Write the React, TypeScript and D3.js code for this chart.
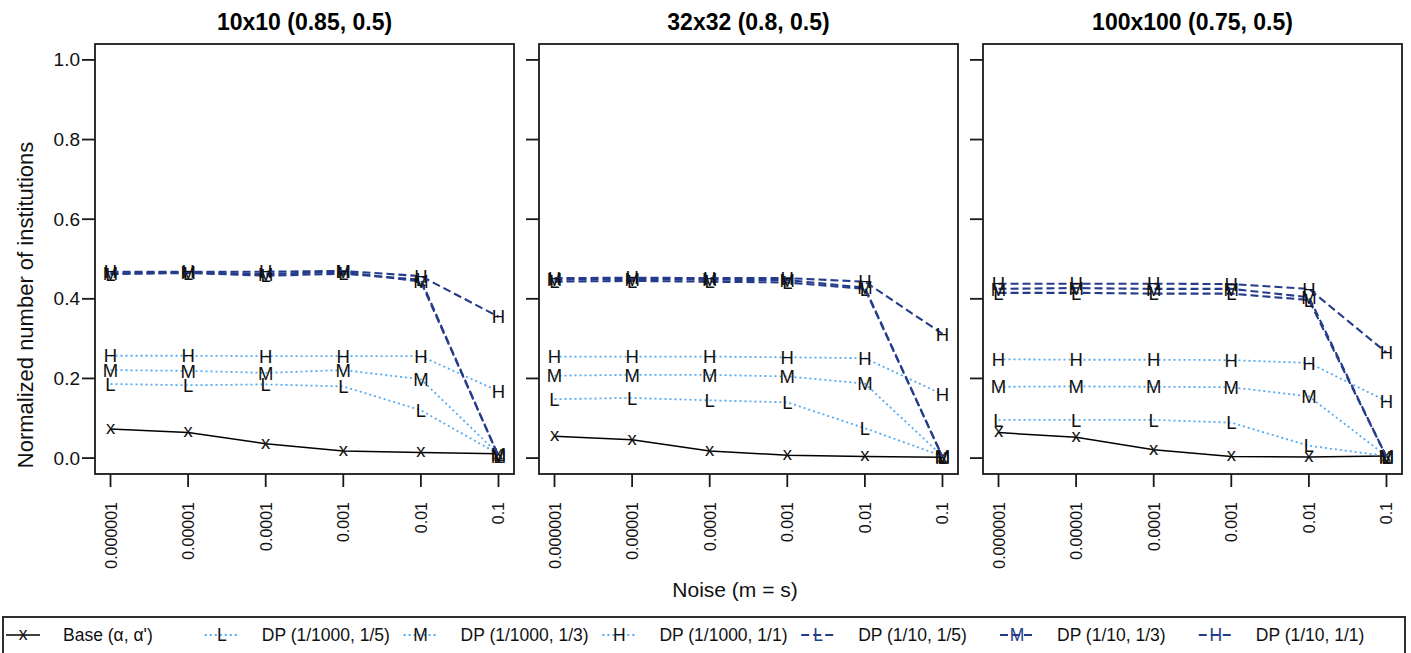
import React from 'react';
import * as d3 from 'd3';

// noise levels on the x axis (m = s)
const noiseLabels = ['0.000001', '0.00001', '0.0001', '0.001', '0.01', '0.1'];
const yTicks = [0, 0.2, 0.4, 0.6, 0.8, 1.0];
const panelTitles = ['10x10 (0.85, 0.5)', '32x32 (0.8, 0.5)', '100x100 (0.75, 0.5)'];

// 10x10
const p10Base = [0.073, 0.064, 0.036, 0.018, 0.014, 0.011];
const p10L1000 = [0.186, 0.183, 0.185, 0.18, 0.12, 0.01];
const p10M1000 = [0.221, 0.219, 0.214, 0.221, 0.198, 0.01];
const p10H1000 = [0.257, 0.257, 0.256, 0.256, 0.256, 0.168];
const p10L10 = [0.462, 0.465, 0.458, 0.463, 0.448, 0.005];
const p10M10 = [0.464, 0.466, 0.462, 0.468, 0.443, 0.005];
const p10H10 = [0.468, 0.468, 0.468, 0.47, 0.457, 0.355];

// 32x32
const p32Base = [0.055, 0.046, 0.018, 0.007, 0.004, 0.002];
const p32L1000 = [0.148, 0.151, 0.145, 0.14, 0.075, 0.005];
const p32M1000 = [0.207, 0.209, 0.209, 0.205, 0.187, 0.005];
const p32H1000 = [0.255, 0.255, 0.255, 0.253, 0.251, 0.16];
const p32L10 = [0.443, 0.445, 0.443, 0.441, 0.425, 0.003];
const p32M10 = [0.448, 0.45, 0.448, 0.447, 0.428, 0.003];
const p32H10 = [0.452, 0.453, 0.452, 0.452, 0.443, 0.312];

// 100x100
const p100Base = [0.064, 0.052, 0.021, 0.004, 0.003, 0.005];
const p100L1000 = [0.096, 0.096, 0.096, 0.089, 0.031, 0.005];
const p100M1000 = [0.179, 0.18, 0.179, 0.178, 0.155, 0.005];
const p100H1000 = [0.248, 0.247, 0.247, 0.246, 0.239, 0.143];
const p100L10 = [0.415, 0.415, 0.413, 0.413, 0.397, 0.003];
const p100M10 = [0.425, 0.427, 0.425, 0.425, 0.404, 0.003];
const p100H10 = [0.438, 0.438, 0.438, 0.437, 0.425, 0.265];

const LIGHT = '#55AAF5';
const DARK = '#253C8C';

const seriesStyle = [
  { label: "Base (\u03b1, \u03b1')", pch: 'x', color: '#000', dash: null, width: 1.5 },
  { label: 'DP (1/1000, 1/5)', pch: 'L', color: LIGHT, dash: '2,3', width: 1.8 },
  { label: 'DP (1/1000, 1/3)', pch: 'M', color: LIGHT, dash: '2,3', width: 1.8 },
  { label: 'DP (1/1000, 1/1)', pch: 'H', color: LIGHT, dash: '2,3', width: 1.8 },
  { label: 'DP (1/10, 1/5)', pch: 'L', color: DARK, dash: '8,4', width: 2.1 },
  { label: 'DP (1/10, 1/3)', pch: 'M', color: DARK, dash: '8,4', width: 2.1 },
  { label: 'DP (1/10, 1/1)', pch: 'H', color: DARK, dash: '8,4', width: 2.1 },
];

const panels = [
  [p10Base, p10L1000, p10M1000, p10H1000, p10L10, p10M10, p10H10],
  [p32Base, p32L1000, p32M1000, p32H1000, p32L10, p32M10, p32H10],
  [p100Base, p100L1000, p100M1000, p100H1000, p100L10, p100M10, p100H10],
];

const FONT = 'Liberation Sans, Arial, sans-serif';
const panelLefts = [95, 539, 983];
const panelW = 419;
const top = 44;
const bottom = 474;

const y = d3.scaleLinear().domain([-0.04, 1.04]).range([bottom, top]);

// vertical offset that puts the glyph's middle on the point
const glyphDy = (ch: string, fs: number) => (ch === 'x' ? 0.26 * fs : 0.36 * fs);

const Panel = ({ idx }: { idx: number }) => {
  const left = panelLefts[idx];
  const x = d3.scaleLinear().domain([0.8, 6.2]).range([left, left + panelW]);
  const line = d3.line<number>().x((_, i) => x(i + 1)).y(d => y(d));
  const data = panels[idx];
  const fs = 18.5;
  return (
    <g>
      <text x={left + panelW / 2} y={30} textAnchor="middle" fontWeight="bold" fontSize={23} fontFamily={FONT}>
        {panelTitles[idx]}
      </text>
      {data.map((vals, si) => {
        const s = seriesStyle[si];
        return (
          <g key={si}>
            <path d={line(vals) || ''} fill="none" stroke={s.color} strokeWidth={s.width}
              strokeDasharray={s.dash || undefined} />
            {vals.map((v, i) => (
              <text key={i} x={x(i + 1)} y={y(v) + glyphDy(s.pch, fs)} textAnchor="middle"
                fontSize={fs} fontFamily={FONT} fill="#111">{s.pch}</text>
            ))}
          </g>
        );
      })}
      <rect x={left} y={top} width={panelW} height={bottom - top} fill="none" stroke="#1a1a1a" strokeWidth={1.8} />
      {yTicks.map(t => (
        <line key={t} x1={left - 13} x2={left} y1={y(t)} y2={y(t)} stroke="#1a1a1a" strokeWidth={1.8} />
      ))}
      {idx === 0 && yTicks.map(t => (
        <text key={'l' + t} x={left - 15} y={y(t) + 6.5} textAnchor="end" fontSize={19} fontFamily={FONT} fill="#111">
          {d3.format('.1f')(t)}
        </text>
      ))}
      {noiseLabels.map((lab, i) => (
        <g key={lab}>
          <line x1={x(i + 1)} x2={x(i + 1)} y1={bottom} y2={bottom + 13} stroke="#1a1a1a" strokeWidth={1.8} />
          <text transform={`translate(${x(i + 1) + 6},${bottom + 28}) rotate(-90)`} textAnchor="end"
            fontSize={16} fontFamily={FONT} fill="#111">{lab}</text>
        </g>
      ))}
    </g>
  );
};

const Legend = () => {
  const textX0 = 63;
  const step = 198.8;
  const yc = 635;
  return (
    <g>
      <rect x={3} y={617} width={1402} height={50} fill="none" stroke="#1a1a1a" strokeWidth={1.8} />
      {seriesStyle.map((s, i) => {
        const tx = textX0 + step * i;
        const mx = tx - 40;
        return (
          <g key={i}>
            <line x1={mx - 17} x2={mx + 17} y1={yc} y2={yc} stroke={s.color} strokeWidth={s.width}
              strokeDasharray={s.dash || undefined} />
            <text x={mx} y={yc + glyphDy(s.pch, 17.5)} textAnchor="middle" fontSize={17.5} fontFamily={FONT}
              fill={s.color === DARK ? DARK : '#111'}>{s.pch}</text>
            <text x={tx} y={yc + 6} fontSize={17.5} fontFamily={FONT} fill="#111">{s.label}</text>
          </g>
        );
      })}
    </g>
  );
};

export default function App() {
  return (
    <svg width={1411} height={653} style={{ position: 'absolute', left: 0, top: 0, background: '#fff' }}>
      <rect width={1411} height={653} fill="#fff" />
      {[0, 1, 2].map(i => <Panel key={i} idx={i} />)}
      <text transform="translate(33,305) rotate(-90)" textAnchor="middle" fontSize={22} fontFamily={FONT} fill="#111">
        Normalized number of institutions
      </text>
      <text x={735} y={597} textAnchor="middle" fontSize={21} fontFamily={FONT} fill="#111">Noise (m = s)</text>
      <Legend />
    </svg>
  );
}
